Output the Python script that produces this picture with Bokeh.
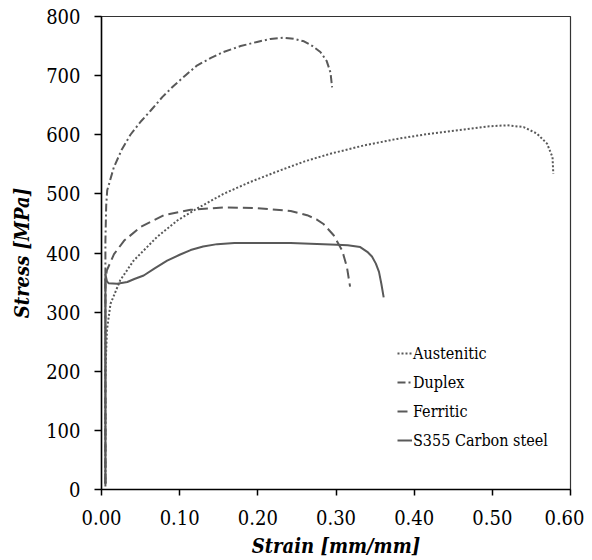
from bokeh.plotting import figure
from bokeh.models import Range1d, FixedTicker, PrintfTickFormatter, Legend, LegendItem
from bokeh.embed import file_html
from bokeh.resources import INLINE

# ---- data (strain [mm/mm], stress [MPa]) ----
aust_x = [0.005, 0.005, 0.007, 0.0115, 0.024, 0.041, 0.071, 0.097, 0.122, 0.156, 0.19, 0.229,
          0.26, 0.293, 0.336, 0.378, 0.421, 0.464, 0.493, 0.519, 0.54, 0.557, 0.57, 0.577, 0.578]
aust_y = [10, 200, 270, 314, 354, 387, 427, 455, 475, 500, 520, 540,
          555, 568, 582, 593, 602, 609, 614, 616, 613, 602, 585, 562, 534]

dup_x = [0.005, 0.005, 0.006, 0.0073, 0.0158, 0.026, 0.037, 0.05, 0.063, 0.078, 0.0925, 0.108,
         0.122, 0.14, 0.156, 0.178, 0.199, 0.216, 0.233, 0.247, 0.259, 0.27, 0.28, 0.288, 0.293, 0.295]
dup_y = [10, 420, 480, 506, 545, 575, 600, 622, 641, 664, 683, 701,
         717, 730, 740, 750, 757, 762, 764, 762, 758, 750, 740, 725, 705, 680]

ferr_x = [0.005, 0.005, 0.007, 0.016, 0.029, 0.05, 0.08, 0.114, 0.156, 0.199, 0.242, 0.263,
          0.275, 0.284, 0.297, 0.308, 0.314, 0.318]
ferr_y = [10, 355, 371, 398, 421, 444, 464, 473, 477, 476, 471, 464,
          457, 449, 430, 404, 376, 343]

cs_x = [0.005, 0.005, 0.007, 0.009, 0.02, 0.033, 0.042, 0.054, 0.068, 0.084, 0.1, 0.114,
        0.13, 0.148, 0.17, 0.19, 0.242, 0.301, 0.315, 0.331, 0.34, 0.346, 0.351, 0.355, 0.358, 0.361]
cs_y = [5, 364, 352, 349, 348, 351, 356, 362, 374, 387, 397, 405,
        411, 415, 417, 417, 417, 414, 413, 410, 402, 394, 382, 368, 348, 325]

x_ticks = [0.0, 0.1, 0.2, 0.3, 0.4, 0.5, 0.6]
y_ticks = [0, 100, 200, 300, 400, 500, 600, 700, 800]

FONT = "DejaVu Serif Condensed, DejaVu Serif"
LC = "#595959"

p = figure(width=584, height=560, output_backend="svg", toolbar_location=None,
           x_range=Range1d(0, 0.6), y_range=Range1d(0, 800),
           min_border_left=101, min_border_right=14, min_border_top=16, min_border_bottom=71)
p.background_fill_color = "white"
p.border_fill_color = "white"
p.outline_line_color = "#333333"
p.outline_line_width = 1.2
p.xgrid.visible = False
p.ygrid.visible = False

r_a = p.line(aust_x, aust_y, line_color=LC, line_width=2, line_dash="2 2")
r_d = p.line(dup_x, dup_y, line_color=LC, line_width=2, line_dash="8 3 2 3")
r_f = p.line(ferr_x, ferr_y, line_color=LC, line_width=2, line_dash="10 5")
r_c = p.line(cs_x, cs_y, line_color=LC, line_width=2)

for ax in (p.xaxis[0], p.yaxis[0]):
    ax.axis_line_color = "black"
    ax.axis_line_width = 1.5
    ax.major_tick_line_color = "black"
    ax.major_tick_line_width = 1.5
    ax.major_tick_in = 0
    ax.minor_tick_line_color = None
    ax.major_label_text_font = FONT
    ax.major_label_text_font_size = "20px"
    ax.major_label_text_color = "black"
    ax.axis_label_text_font = FONT
    ax.axis_label_text_font_size = "20px"
    ax.axis_label_text_font_style = "bold italic"
    ax.axis_label_text_color = "black"

p.xaxis.ticker = FixedTicker(ticks=x_ticks)
p.xaxis.formatter = PrintfTickFormatter(format="%.2f")
p.xaxis.major_tick_out = 6
p.xaxis.major_label_standoff = 14
p.xaxis.axis_label = "Strain [mm/mm]"
p.xaxis.axis_label_standoff = 6

p.yaxis.ticker = FixedTicker(ticks=y_ticks)
p.yaxis.major_tick_out = 7
p.yaxis.major_label_standoff = 14
p.yaxis.axis_label = "Stress [MPa]"
p.yaxis.axis_label_standoff = 9

legend = Legend(items=[
    LegendItem(label="Austenitic", renderers=[r_a]),
    LegendItem(label="Duplex", renderers=[r_d]),
    LegendItem(label="Ferritic", renderers=[r_f]),
    LegendItem(label="S355 Carbon steel", renderers=[r_c]),
], location=(296, 39), background_fill_alpha=0, border_line_color=None,
    label_text_font=FONT, label_text_font_size="16px",
    label_text_color="black",
    glyph_width=15, glyph_height=20, label_height=20, label_standoff=1,
    spacing=9, padding=0, margin=0)
p.add_layout(legend)

open("out.html", "w").write(file_html(p, INLINE))
